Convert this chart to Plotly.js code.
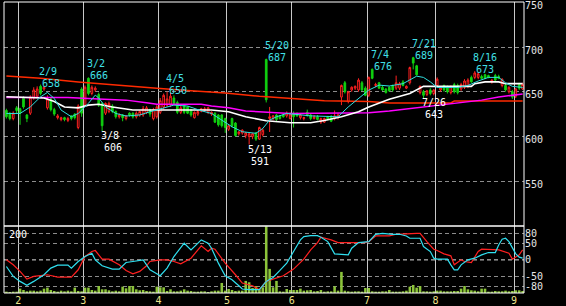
<!DOCTYPE html>
<html><head><meta charset="utf-8">
<script src="https://cdn.plot.ly/plotly-3.0.1.min.js"></script>
<style>html,body{margin:0;padding:0;background:#000;}#chart{width:566px;height:306px;}</style>
</head><body><div id="chart"></div>
<script>
const dates = ['1/26','1/27','1/28','1/31',
'2/1','2/2','2/3','2/4','2/7','2/8','2/9','2/10','2/14','2/15','2/16','2/17','2/18','2/21','2/22','2/23','2/24','2/25','2/28',
'3/1','3/2','3/3','3/4','3/7','3/8','3/9','3/10','3/11','3/14','3/15','3/16','3/17','3/18','3/22','3/23','3/24','3/25','3/28','3/29','3/30','3/31',
'4/1','4/4','4/5','4/6','4/7','4/8','4/11','4/12','4/13','4/14','4/15','4/18','4/19','4/20','4/21','4/22','4/25','4/26','4/27','4/28',
'5/2','5/6','5/9','5/10','5/11','5/12','5/13','5/16','5/17','5/18','5/19','5/20','5/23','5/24','5/25','5/26','5/27','5/30','5/31',
'6/1','6/2','6/3','6/6','6/7','6/8','6/9','6/10','6/13','6/14','6/15','6/16','6/17','6/20','6/21','6/22','6/23','6/24','6/27','6/28','6/29','6/30',
'7/1','7/4','7/5','7/6','7/7','7/8','7/11','7/12','7/13','7/14','7/15','7/19','7/20','7/21','7/22','7/25','7/26','7/27','7/28','7/29',
'8/1','8/2','8/3','8/4','8/5','8/8','8/9','8/10','8/11','8/12','8/15','8/16','8/17','8/18','8/19','8/22','8/23','8/24','8/25','8/26','8/29','8/30','8/31',
'9/1','9/2','9/5'];

const open = [629,626,620,632,631,643,624,626,643,645,656,653,632,642,630,621,619,621,618,623,625,610,653,635,665,648,652,647,637,626,628,634,628,622,624,620,626,626,622,624,624,627,630,620,622,627,633,635,635,643,638,627,635,633,630,621,625,628,629,627,625,626,624,624,620,608,620,615,603,604,601,600,600,604,597,602,686,620,620,624,623,624,623,620,626,625,621,620,627,624,620,622,616,616,622,622,620,621,644,660,639,652,654,652,660,654,646,675,657,660,655,653,655,657,654,654,661,654,660,688,679,649,650,647,652,648,657,652,657,655,649,658,657,653,655,656,666,666,666,667,669,668,661,668,667,657,657,650,650,645,659,653];
const high = [631,627,628,634,632,645,625,646,655,656,658,656,646,644,632,625,622,622,622,624,626,636,655,657,666,657,656,649,638,638,639,636,629,626,625,624,627,627,628,629,634,634,631,632,635,643,648,650,649,646,640,635,636,634,631,628,630,632,633,633,628,627,625,625,621,614,621,616,606,608,605,604,604,605,611,609,687,633,624,625,624,625,628,627,628,627,625,622,630,625,624,624,621,621,623,624,629,626,658,662,651,656,657,665,662,656,667,676,660,661,657,654,656,658,668,661,663,657,678,689,680,657,652,652,654,653,666,656,658,657,657,660,659,660,664,665,668,673,672,669,670,669,664,670,669,665,659,656,652,654,660,660];
const low = [620,618,618,626,613,631,616,624,641,643,646,651,630,628,623,619,617,617,616,618,619,608,622,633,646,646,650,633,606,624,626,626,620,620,617,618,622,620,620,622,622,625,622,618,620,625,630,633,633,635,625,625,625,625,622,620,623,627,628,625,623,615,611,610,604,606,610,600,601,602,598,591,597,595,596,600,638,605,618,617,619,621,621,619,610,622,619,618,622,618,619,618,614,615,618,616,618,619,635,648,637,650,652,650,651,645,644,664,655,653,651,648,650,650,652,652,656,653,658,675,668,647,643,645,646,646,655,650,650,648,647,648,647,651,653,654,660,664,664,664,664,665,659,662,664,655,650,648,642,643,652,652];
const close = [622,620,626,629,626,633,620,644,652,653,648,655,642,630,625,623,621,619,620,620,621,634,626,655,648,655,654,635,612,637,637,628,622,624,621,623,624,622,626,628,631,632,625,630,633,640,646,642,645,637,627,632,627,626,624,627,628,631,631,632,627,616,613,612,610,612,612,601,605,607,604,603,603,597,610,607,641,622,623,619,620,622,626,625,622,623,624,621,624,620,622,619,620,620,619,617,623,624,657,650,650,655,656,663,652,646,666,665,658,654,652,649,651,652,660,659,657,656,677,682,669,656,646,651,648,652,664,655,652,650,656,650,649,658,662,663,661,671,670,665,665,666,663,663,665,664,652,655,644,653,654,658];
const volume = [4,3,4,4,13,9,5,7,7,5,7,13,16,9,6,4,7,5,7,5,16,6,5,16,16,9,7,21,11,11,8,5,7,5,19,14,21,21,11,8,9,6,5,4,19,17,17,6,11,5,5,7,11,7,6,4,4,5,5,3,5,7,7,30,7,12,9,6,7,7,36,32,15,21,11,17,199,72,17,36,5,4,12,9,9,9,13,7,8,9,5,6,9,4,5,5,20,7,63,7,5,4,5,5,4,15,15,5,4,4,5,5,9,4,4,4,5,7,19,24,16,21,5,5,4,5,7,7,5,5,5,6,6,13,21,11,8,7,5,13,13,4,4,6,5,5,7,5,6,8,8,6];

const monthStarts = ['2/1','3/1','4/1','5/2','6/1','7/1','8/1','9/1'];
const monthLabels = ['2','3','4','5','6','7','8','9'];
const priceTicks = [550,600,650,700,750];
const rciTicks = [80,50,0,-50,-80];

const maShortDates = ['1/26','2/1','2/4','2/9','2/14','2/16','2/18','2/23','2/25','3/2','3/4','3/7','3/9','3/14','3/17','3/24','3/29','4/1','4/7','4/13','4/19','4/22','4/27','5/6','5/11','5/17','5/19','5/23','5/25','5/30','6/8','6/20','6/23','6/28','7/1','7/6','7/11','7/15','7/22','7/26','7/28','8/1','8/9','8/12','8/17','8/22','8/25','8/29','8/31','9/5'];
const maShortVals = [625.7,625.7,633,644.3,649.2,642.5,629.5,622,625.7,637,646.2,643,633,625.7,622.9,624,627.6,631,635,634,628.7,625.7,618.3,610.8,605.3,603.5,609,618.3,622,625.7,623,622,633,642.5,651.8,657.4,656.4,659,667.4,666,661,654.8,654.8,657,662,666,666,660,656,654.8];

const maMidDates = ['1/26','2/4','2/10','2/16','2/21','2/25','3/2','3/7','3/11','3/22','4/22','5/2','5/12','5/20','5/31','6/8','6/14','6/21','6/28','7/1','7/11','7/20','7/26','8/15','8/16','8/19','8/25','8/29','9/5'];
const maMidVals = [644.3,643,643,639,633,632,635,636,633,629.5,629.5,627.6,622,617.5,615.3,615.3,617.8,622,627.6,633,641.7,648,656,656,659,661,661,659,659];

const maLongDates = ['1/26','2/22','3/7','3/17','3/28','3/31','4/19','4/22','5/2','5/12','5/31','7/1','7/11','7/26','8/9','8/18','8/25','9/5'];
const maLongVals = [643.6,643.5,642,640.6,637.6,636,636,634,632,628.4,625.7,626.5,628.5,633,637,640.6,644,647.5];

const maLongestDates = ['1/26','2/9','2/25','3/15','3/31','4/14','4/28','5/18','5/31','6/14','7/1','7/11','8/5','8/8','9/5'];
const maLongestVals = [667.5,665,661,657,654,651,648.5,645,643,640,639,637.5,637.5,639.5,639.5];

const rciShortDates = ['1/26','1/28','2/1','2/3','2/7','2/10','2/15','2/17','2/22','2/23','2/25','3/1','3/3','3/4','3/8','3/11','3/15','3/17','3/22','3/25','3/29','4/1','4/5','4/7','4/12','4/14','4/19','4/21','4/22','4/26','4/28','5/6','5/10','5/11','5/13','5/18','5/20','5/24','5/26','5/30','6/1','6/3','6/6','6/8','6/10','6/13','6/15','6/17','6/23','6/24','6/28','7/1','7/5','7/7','7/12','7/14','7/19','7/20','7/25','7/26','7/28','7/29','8/1','8/4','8/5','8/8','8/9','8/10','8/12','8/16','8/18','8/22','8/24','8/25','8/26','8/29','8/30','8/31','9/1','9/2','9/5'];
const rciShortVals = [-20,-50,-65,-77,-65,-45,-25,-16,-16,-25,-5,10,20,0,-18,-28,-28,-8,-5,0,-30,-48,-25,10,50,30,60,50,35,-10,-48,-60,-78,-88,-90,-90,-65,-53,-32,-10,25,60,70,73,73,68,55,18,15,35,52,55,77,80,77,77,72,65,65,40,25,5,2,2,-15,-30,-30,-15,0,5,15,22,22,45,62,65,55,35,18,8,5];

const rciLongDates = ['1/26','1/28','2/1','2/3','2/7','2/9','2/14','2/17','2/23','2/25','3/1','3/3','3/4','3/8','3/10','3/15','3/17','3/22','3/24','3/28','3/29','4/1','4/5','4/7','4/11','4/14','4/19','4/21','4/22','4/25','4/28','5/9','5/11','5/16','5/18','5/20','5/25','5/27','6/1','6/6','6/8','6/10','6/13','6/16','6/20','6/30','7/1','7/5','7/11','7/13','7/22','7/25','7/27','7/29','8/1','8/3','8/5','8/8','8/10','8/11','8/15','8/17','8/18','8/23','8/25','8/30','8/31','9/2','9/5'];
const rciLongVals = [0,-15,-35,-58,-50,-48,-45,-52,-52,-30,10,25,28,2,2,-15,-32,-42,-35,-18,-5,0,0,-5,-12,5,42,25,35,32,-10,-45,-70,-78,-90,-65,-55,-48,-28,2,30,52,68,60,52,52,55,72,72,77,80,80,55,32,28,18,12,-15,0,-5,-8,25,32,32,30,20,2,15,30];

const highMarks = [['2/9',658],['3/2',666],['4/5',650],['5/20',687],['7/4',676],['7/21',689],['8/16',673]];
const lowMarks = [['3/8',606],['5/13',591],['7/26',643]];

const idx = d => dates.indexOf(d);
const xi = dates.map((d,i)=>i);
const F = 'DejaVu Sans Mono, monospace';

const traces = [
  {type:'candlestick', x:xi, open:open, high:high, low:low, close:close, xaxis:'x', yaxis:'y',
   increasing:{line:{color:'#ff2020',width:1}, fillcolor:'#000000'},
   decreasing:{line:{color:'#10d010',width:1}, fillcolor:'#10d010'},
   whiskerwidth:0, hoverinfo:'skip', showlegend:false},
  {type:'scatter', mode:'lines', x:maLongestDates.map(idx), y:maLongestVals, xaxis:'x', yaxis:'y', line:{color:'#ff2a00',width:1.5}, hoverinfo:'skip', showlegend:false},
  {type:'scatter', mode:'lines', x:maLongDates.map(idx), y:maLongVals, xaxis:'x', yaxis:'y', line:{color:'#ff00ff',width:1.5}, hoverinfo:'skip', showlegend:false},
  {type:'scatter', mode:'lines', x:maMidDates.map(idx), y:maMidVals, xaxis:'x', yaxis:'y', line:{color:'#ffffff',width:1.6}, hoverinfo:'skip', showlegend:false},
  {type:'scatter', mode:'lines', x:maShortDates.map(idx), y:maShortVals, xaxis:'x', yaxis:'y', line:{color:'#30e0e0',width:1}, hoverinfo:'skip', showlegend:false},
  {type:'bar', x:xi, y:volume, xaxis:'x2', yaxis:'y2', marker:{color:'#8cc43a'}, width:0.75, hoverinfo:'skip', showlegend:false},
  {type:'scatter', mode:'lines', x:rciLongDates.map(idx), y:rciLongVals, xaxis:'x2', yaxis:'y3', line:{color:'#ff2020',width:1.2}, hoverinfo:'skip', showlegend:false},
  {type:'scatter', mode:'lines', x:rciShortDates.map(idx), y:rciShortVals, xaxis:'x2', yaxis:'y3', line:{color:'#30e0f0',width:1.2}, hoverinfo:'skip', showlegend:false}
];

const split = 67/291;
const xr = [-0.7, 151.4];
const monthTickVals = monthStarts.map(d => idx(d) - 0.5);

const annotations = [];
highMarks.forEach(([d,v]) => {
  annotations.push({x:idx(d), y:v, xref:'x', yref:'y', text:d, showarrow:false, xanchor:'left', yanchor:'middle', xshift:-2.5, yshift:13.5, borderpad:0, font:{family:F,size:10,color:'#40e0e8'}});
  annotations.push({x:idx(d), y:v, xref:'x', yref:'y', text:String(v), showarrow:false, xanchor:'left', yanchor:'middle', xshift:0.5, yshift:1.5, borderpad:0, font:{family:F,size:10,color:'#40e0e8'}});
});
lowMarks.forEach(([d,v]) => {
  annotations.push({x:idx(d), y:v, xref:'x', yref:'y', text:d, showarrow:false, xanchor:'left', yanchor:'middle', xshift:-2.5, yshift:-4.5, borderpad:0, font:{family:F,size:10,color:'#ffffff'}});
  annotations.push({x:idx(d), y:v, xref:'x', yref:'y', text:String(v), showarrow:false, xanchor:'left', yanchor:'middle', xshift:0.5, yshift:-16.5, borderpad:0, font:{family:F,size:10,color:'#ffffff'}});
});
annotations.push({x:0.008, y:100, xref:'paper', yref:'y3', text:'200', showarrow:false, xanchor:'left', yanchor:'top', yshift:-1, borderpad:0, font:{family:F,size:10,color:'#ffffff'}});

const gridY = {showgrid:true, gridcolor:'#8c8c8c', gridwidth:1, griddash:'4px,3px', zeroline:false, showline:false, ticks:'', fixedrange:true};

const layout = {
  width:566, height:306,
  margin:{l:4, r:42, t:2, b:13, pad:0},
  paper_bgcolor:'#000000', plot_bgcolor:'#000000',
  showlegend:false,
  xaxis:{domain:[0,1], anchor:'y', range:xr, tickvals:monthTickVals, ticktext:monthLabels, showticklabels:false, showgrid:true, gridcolor:'#c8c8c8', gridwidth:1, zeroline:false, showline:false, ticks:'', rangeslider:{visible:false}, fixedrange:true},
  xaxis2:{domain:[0,1], anchor:'y2', range:xr, matches:'x', tickvals:monthTickVals, ticktext:monthLabels, showticklabels:true, tickfont:{family:F,size:10,color:'#f0e68c'}, showgrid:true, gridcolor:'#c8c8c8', gridwidth:1, zeroline:false, showline:false, ticks:'', ticklabelstandoff:0, fixedrange:true},
  yaxis:Object.assign({domain:[split,1], anchor:'x', side:'right', range:[499.9,750.3], tickvals:priceTicks, ticktext:priceTicks.map(String), tickfont:{family:F,size:10,color:'#e6e6e6'}, ticklabelshift:3, ticklabeloverflow:'allow'}, gridY),
  yaxis2:{domain:[0,split], anchor:'x2', range:[0,200], visible:false, showgrid:false, fixedrange:true},
  yaxis3:Object.assign({overlaying:'y2', anchor:'x2', side:'right', range:[-100,102], tickvals:rciTicks, ticktext:rciTicks.map(String), tickfont:{family:F,size:10,color:'#e6e6e6'}}, gridY),
  shapes:[
    {type:'line', xref:'paper', yref:'y3', x0:0, x1:1, y0:0, y1:0, line:{color:'#ffffff', width:1, dash:'4px,3px'}, layer:'below'},
    {type:'rect', xref:'paper', yref:'paper', x0:0, x1:1, y0:split, y1:1, line:{color:'#ffffff', width:1}},
    {type:'rect', xref:'paper', yref:'paper', x0:0, x1:1, y0:0, y1:split, line:{color:'#ffffff', width:1}}
  ],
  annotations:annotations
};

Plotly.newPlot('chart', traces, layout, {staticPlot:true, displayModeBar:false});
</script></body></html>
